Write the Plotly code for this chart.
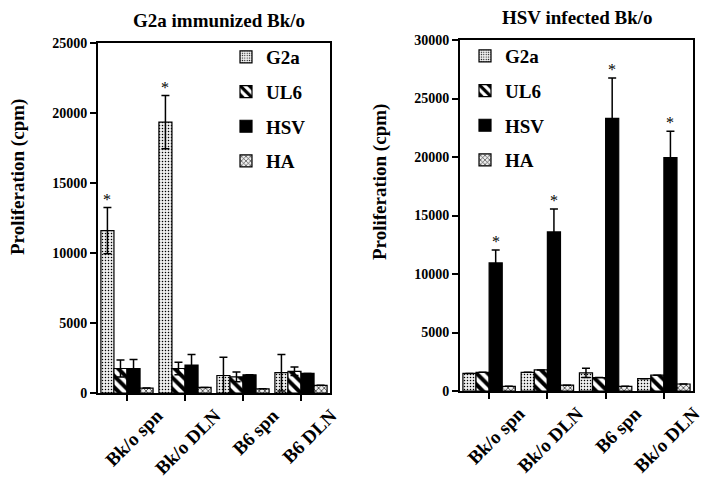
import plotly.graph_objects as go

# ---------------- data ----------------
series = ["G2a", "UL6", "HSV", "HA"]

left_title = "G2a immunized Bk/o"
left_cats = ["Bk/o spn", "Bk/o DLN", "B6 spn", "B6 DLN"]
left_G2a = [11600, 19350, 1250, 1450]
left_G2a_err = [1650, 1900, 1300, 1300]
left_UL6 = [1750, 1750, 1150, 1550]
left_UL6_err = [600, 450, 350, 300]
left_HSV = [1750, 2000, 1300, 1400]
left_HSV_err = [650, 750, 0, 0]
left_HA = [350, 400, 300, 550]
left_HA_err = [0, 0, 0, 0]
left_star_series = "G2a"
left_star_groups = [0, 1]

right_title = "HSV infected Bk/o"
right_cats = ["Bk/o spn", "Bk/o DLN", "B6 spn", "Bk/o DLN"]
right_G2a = [1500, 1600, 1550, 1050]
right_G2a_err = [0, 0, 400, 0]
right_UL6 = [1600, 1800, 1150, 1350]
right_UL6_err = [0, 0, 0, 0]
right_HSV = [10950, 13600, 23300, 19950]
right_HSV_err = [1100, 1950, 3450, 2250]
right_HA = [400, 500, 400, 600]
right_HA_err = [0, 0, 0, 0]
right_star_series = "HSV"
right_star_groups = [0, 1, 2, 3]

y_title = "Proliferation (cpm)"
left_yticks = [0, 5000, 10000, 15000, 20000, 25000]
left_yticklabels = ["0", "5000", "10000", "15000", "20000", "25000"]
right_yticks = [0, 5000, 10000, 15000, 20000, 25000, 30000]
right_yticklabels = ["0", "5000", "10000", "15000", "20000", "25000", "30000"]

# ---------------- style ----------------
FONT = "Liberation Serif, Times New Roman, serif"
W, H = 710, 486

styles = {
    "G2a": dict(color="white", pattern=dict(shape=".", size=3, solidity=0.2, fgcolor="black", bgcolor="#eeeeee", fillmode="replace")),
    "UL6": dict(color="white", pattern=dict(shape="\\", size=8, solidity=0.5, fgcolor="black", bgcolor="white", fillmode="replace")),
    "HSV": dict(color="black"),
    "HA": dict(color="white", pattern=dict(shape="x", size=4, solidity=0.35, fgcolor="#333333", bgcolor="#eeeeee", fillmode="replace")),
}

def px_x(p):
    return p / W

def px_y(p):
    return 1 - p / H

fig = go.Figure()

panels = [
    dict(xa="x", ya="y", leg="legend", cats=left_cats,
         vals={"G2a": left_G2a, "UL6": left_UL6, "HSV": left_HSV, "HA": left_HA},
         errs={"G2a": left_G2a_err, "UL6": left_UL6_err, "HSV": left_HSV_err, "HA": left_HA_err},
         star=left_star_series, star_groups=left_star_groups),
    dict(xa="x2", ya="y2", leg="legend2", cats=right_cats,
         vals={"G2a": right_G2a, "UL6": right_UL6, "HSV": right_HSV, "HA": right_HA},
         errs={"G2a": right_G2a_err, "UL6": right_UL6_err, "HSV": right_HSV_err, "HA": right_HA_err},
         star=right_star_series, star_groups=right_star_groups),
]

for p in panels:
    xs = list(range(len(p["cats"])))
    for s in series:
        st = styles[s]
        marker = dict(color=st["color"], line=dict(color="black", width=1.2))
        if "pattern" in st:
            marker["pattern"] = st["pattern"]
        fig.add_trace(go.Bar(
            x=xs, y=p["vals"][s], name=s, xaxis=p["xa"], yaxis=p["ya"],
            legend=p["leg"], legendgroup=p["leg"] + s, marker=marker,
            error_y=dict(type="data", array=p["errs"][s], visible=True,
                         color="black", thickness=1.5, width=4),
        ))

bargap = 0.1
nser = len(series)
bw = (1 - bargap) / nser

annotations = []
for p in panels:
    si = series.index(p["star"])
    off = -((1 - bargap) / 2) + bw * (si + 0.5)
    for g in p["star_groups"]:
        annotations.append(dict(
            x=g + off, y=p["vals"][p["star"]][g] + p["errs"][p["star"]][g],
            xref=p["xa"], yref=p["ya"], text="*", showarrow=False,
            yanchor="bottom", yshift=-2,
            font=dict(family=FONT, size=16, color="#000000"),
        ))

# titles
annotations.append(dict(x=px_x(219), y=px_y(20), xref="paper", yref="paper", text=left_title,
                        showarrow=False, xanchor="center", yanchor="middle",
                        font=dict(family=FONT, size=19, color="black", weight="bold")))
annotations.append(dict(x=px_x(577), y=px_y(18), xref="paper", yref="paper", text=right_title,
                        showarrow=False, xanchor="center", yanchor="middle",
                        font=dict(family=FONT, size=19, color="black", weight="bold")))
# y titles
for xc, yc in [(18, 177), (380, 182)]:
    annotations.append(dict(x=px_x(xc), y=px_y(yc), xref="paper", yref="paper", text=y_title,
                            showarrow=False, textangle=-90, xanchor="center", yanchor="middle",
                            font=dict(family=FONT, size=19, color="black", weight="bold")))

axis_common = dict(showline=True, linecolor="black", linewidth=2, mirror=True,
                   showgrid=False, zeroline=False, ticks="outside", ticklen=6,
                   tickwidth=1.5, tickcolor="black", automargin=False)
xaxis_extra = dict(tickangle=-45, ticklabelshift=30, ticklabelstandoff=-4,
                   tickfont=dict(family=FONT, size=19, weight="bold"))

fig.update_layout(
    width=W, height=H, margin=dict(l=0, r=0, t=0, b=0, autoexpand=False),
    paper_bgcolor="white", plot_bgcolor="white",
    barmode="group", bargap=bargap, bargroupgap=0,
    font=dict(family=FONT, color="black"),
    xaxis=dict(domain=[px_x(98), px_x(330)], anchor="y", range=[-0.5, 3.5],
               tickvals=list(range(4)), ticktext=left_cats, **xaxis_extra, **axis_common),
    yaxis=dict(domain=[px_y(393), px_y(43)], anchor="x", range=[0, 25000],
               tickvals=left_yticks, ticktext=left_yticklabels,
               tickfont=dict(family=FONT, size=14, weight="bold"), **axis_common),
    xaxis2=dict(domain=[px_x(460), px_x(693)], anchor="y2", range=[-0.5, 3.5],
                tickvals=list(range(4)), ticktext=right_cats, **xaxis_extra, **axis_common),
    yaxis2=dict(domain=[px_y(391), px_y(40)], anchor="x2", range=[0, 30000],
                tickvals=right_yticks, ticktext=right_yticklabels,
                tickfont=dict(family=FONT, size=14, weight="bold"), **axis_common),
    legend=dict(x=px_x(226), y=px_y(38), xanchor="left", yanchor="top",
                bgcolor="rgba(0,0,0,0)", tracegroupgap=7,
                font=dict(family=FONT, size=19, weight="bold")),
    legend2=dict(x=px_x(465), y=px_y(37), xanchor="left", yanchor="top",
                 bgcolor="rgba(0,0,0,0)", tracegroupgap=7,
                 font=dict(family=FONT, size=19, weight="bold")),
    annotations=annotations,
    showlegend=True,
)

fig.write_html("out.html", config={"displayModeBar": False},
               post_script="document.body.style.margin='0';")
